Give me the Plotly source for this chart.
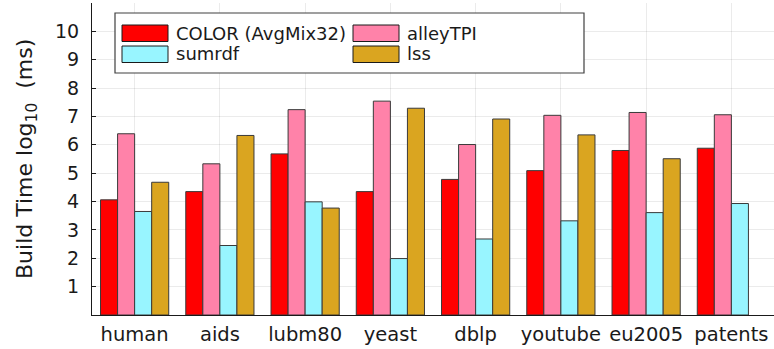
import plotly.graph_objects as go

# Graph datasets and build times (log10 of milliseconds)
datasets = ["human", "aids", "lubm80", "yeast", "dblp", "youtube", "eu2005", "patents"]
color_avgmix32 = [4.06, 4.35, 5.68, 4.35, 4.78, 5.09, 5.80, 5.88]
alley_tpi = [6.39, 5.33, 7.24, 7.54, 6.01, 7.04, 7.14, 7.06]
sumrdf = [3.65, 2.45, 3.99, 1.99, 2.68, 3.32, 3.61, 3.93]
lss = [4.68, 6.33, 3.77, 7.29, 6.91, 6.35, 5.51, None]

series_names = ["COLOR (AvgMix32)", "alleyTPI", "sumrdf", "lss"]
series_values = [color_avgmix32, alley_tpi, sumrdf, lss]
series_colors = ["#FF0000", "#FF82A9", "#98F5FF", "#DAA520"]
y_ticks = [1, 2, 3, 4, 5, 6, 7, 8, 9, 10]

W, H = 774, 349
L, R, T, B = 92, 0, 3, 34
font_family = "DejaVu Sans"
text_color = "#1a1a1a"

fig = go.Figure()
for name, vals, col in zip(series_names, series_values, series_colors):
    fig.add_trace(go.Bar(
        x=datasets, y=vals, name=name,
        marker=dict(color=col, line=dict(color="#3a3a3a", width=1)),
        showlegend=False,
    ))

# pixel -> paper helpers for the hand-built legend
pw, ph = W - L - R, H - T - B
def px(xp):
    return (xp - L) / pw
def py(yp):
    return (H - B - yp) / ph

shapes = []
annotations = []
# legend frame
shapes.append(dict(type="rect", xref="paper", yref="paper",
                   x0=px(115), x1=px(584), y0=py(73), y1=py(13),
                   line=dict(color="#404040", width=1.2), fillcolor="white", layer="above"))
legend_slots = [(122, 25), (353, 25), (122, 46), (353, 46)]
for (sx, sy), name, col in zip(legend_slots, series_names, series_colors):
    shapes.append(dict(type="rect", xref="paper", yref="paper",
                       x0=px(sx), x1=px(sx + 46), y0=py(sy + 16.5), y1=py(sy),
                       line=dict(color="#1a1a1a", width=1), fillcolor=col, layer="above"))
    annotations.append(dict(xref="paper", yref="paper", x=px(sx + 52), y=py(sy + 8),
                            text=name, showarrow=False, xanchor="left", yanchor="middle",
                            font=dict(family=font_family, size=18, color=text_color)))

# y-axis title
annotations.append(dict(xref="paper", yref="paper", x=px(26), y=0.5,
                        text="Build Time log<sub>10</sub>  (ms)", textangle=-90,
                        showarrow=False, xanchor="center", yanchor="middle",
                        font=dict(family=font_family, size=22, color=text_color)))

fig.update_layout(
    width=W, height=H,
    margin=dict(l=L, r=R, t=T, b=B, pad=0),
    paper_bgcolor="white", plot_bgcolor="white",
    barmode="group", bargap=0.2, bargroupgap=0,
    font=dict(family=font_family, size=18, color=text_color),
    shapes=shapes, annotations=annotations,
)
fig.update_xaxes(
    range=[-0.5, 7.5], showgrid=True, gridcolor="rgba(0,0,0,0.08)", gridwidth=1,
    showline=True, linecolor="#1a1a1a", linewidth=1, mirror=False,
    ticks="", tickfont=dict(size=19.5, color=text_color), ticklabelstandoff=2,
)
fig.update_yaxes(
    range=[0, 11], tickvals=y_ticks, ticktext=[str(v) for v in y_ticks],
    showgrid=True, gridcolor="rgba(0,0,0,0.08)", gridwidth=1, zeroline=False,
    showline=True, linecolor="#1a1a1a", linewidth=1, mirror=False,
    ticks="inside", ticklen=4, tickcolor="#1a1a1a",
    tickfont=dict(size=19, color=text_color), ticklabelstandoff=8,
)

fig.write_html("out.html")
